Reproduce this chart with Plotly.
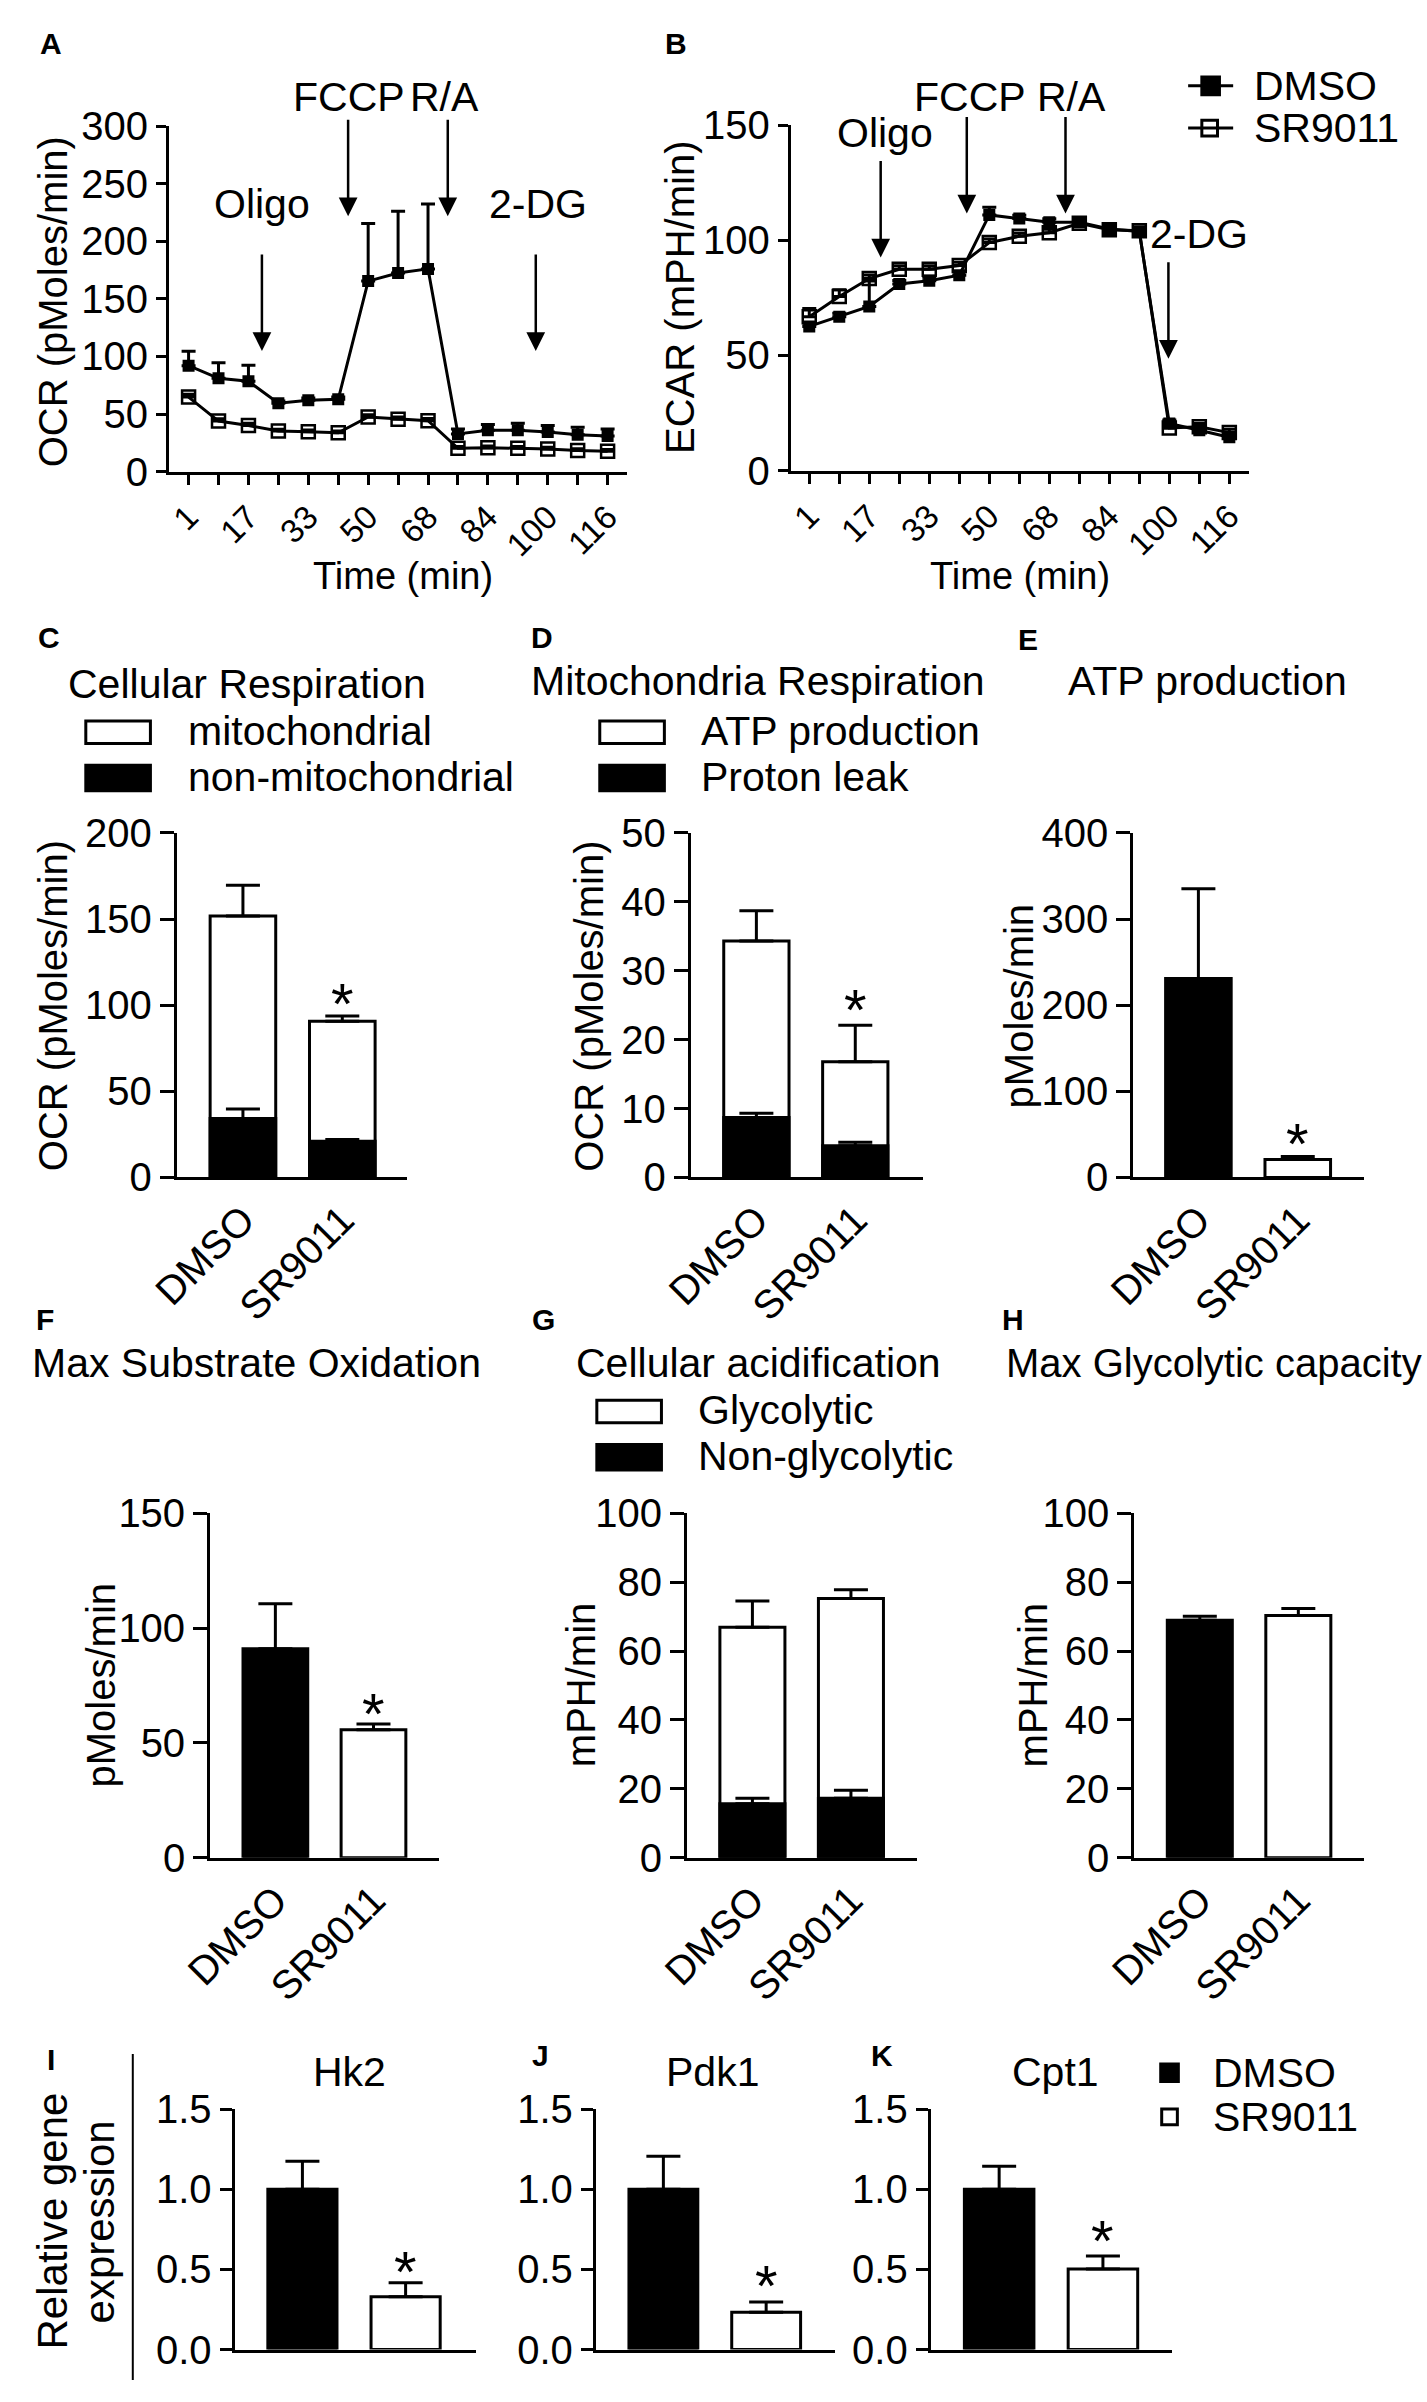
import plotly.graph_objects as go

W, H = 1427, 2402
FONT = "Liberation Sans, Arial, Helvetica, sans-serif"
FS = 40

# ---------------- data ----------------
time_labels = ["1", "", "17", "", "33", "", "50", "", "68", "", "84", "", "100", "", "116"]
time_idx = list(range(len(time_labels)))

ocr_dmso = [92, 81, 78.5, 59.3, 61.9, 62.8, 165.4, 172.4, 176, 32.7, 35.9, 35.9, 34.3, 32, 31]
ocr_dmso_err = [12.5, 13.6, 13.8, 2, 2, 2, 50, 53.6, 56.4, 4.3, 5.1, 6.1, 5.7, 6.5, 6]
ocr_sr = [64.7, 43.9, 40, 35.3, 34.6, 33.7, 47.4, 45.5, 44.2, 20.2, 20.8, 20.2, 19.6, 18.3, 17.6]
ocr_sr_err = [2.5, 2, 2, 1.5, 1.5, 1.5, 2, 2, 2, 1.5, 1.5, 1.5, 1.5, 1.5, 1.5]

ecar_dmso = [62.6, 66.8, 71.3, 81, 82.4, 84.8, 111, 109.4, 107.8, 107.8, 104.9, 103.8, 20.5, 17.5, 14.5]
ecar_dmso_err = [1.5, 1.5, 11, 1.5, 1.5, 1.5, 3.3, 1.5, 1.5, 1.5, 1.5, 1.5, 1.5, 1.5, 1.5]
ecar_sr = [66.8, 75.6, 83.4, 87.4, 87.4, 89, 99, 101.7, 103.3, 107.4, 104.6, 104.1, 18.5, 19, 16.5]
ecar_sr_err = [3.6, 2.9, 1.5, 1.5, 1.5, 1.5, 1.5, 1.5, 1.5, 1.5, 1.5, 1.5, 1.5, 1.5, 1.5]

groups = ["DMSO", "SR9011"]

cr_nonmito = [34.2, 21.0]
cr_nonmito_err = [5.5, 1.0]
cr_mito = [117.5, 69.6]
cr_total_err = [17.9, 3.1]

mr_leak = [8.7, 4.6]
mr_leak_err = [0.6, 0.5]
mr_atp = [25.6, 12.2]
mr_total_err = [4.4, 5.3]

atp_prod = [231.0, 20.9]
atp_prod_err = [104.0, 3.5]

max_sub_ox = [91.0, 55.7]
max_sub_ox_err = [19.6, 2.5]

ca_nonglyc = [15.7, 17.3]
ca_nonglyc_err = [1.6, 2.3]
ca_glyc = [51.2, 57.9]
ca_total_err = [7.6, 2.6]

max_glyc = [68.9, 70.3]
max_glyc_err = [1.2, 2.0]

genes = ["Hk2", "Pdk1", "Cpt1"]
expr_dmso = [1.0, 1.0, 1.0]
expr_dmso_err = [0.175, 0.205, 0.143]
expr_sr = [0.33, 0.232, 0.502]
expr_sr_err = [0.086, 0.065, 0.082]

# ---------------- layout helpers ----------------
fig = go.Figure()
layout = dict(width=W, height=H, margin=dict(l=0, r=0, t=0, b=0), autosize=False,
              paper_bgcolor="white", plot_bgcolor="white", showlegend=False,
              barmode="overlay", font=dict(family=FONT, size=FS, color="black"))
ann = []
shapes = []


def xn(n):
    return "x" if n == 1 else f"x{n}"


def yn(n):
    return "y" if n == 1 else f"y{n}"


def xk(n):
    return "xaxis" if n == 1 else f"xaxis{n}"


def yk(n):
    return "yaxis" if n == 1 else f"yaxis{n}"


def px(p):
    return p / W


def py(p):
    return 1 - p / H


def axes(n, xpx, ypx, xr, yr, dtick, xticks=None, yfmt=None, xfs=FS, yticklen=14):
    xa = dict(domain=[px(xpx[0]), px(xpx[1])], range=list(xr), anchor=yn(n),
              showline=True, linewidth=3, linecolor="black", showgrid=False, zeroline=False,
              tickfont=dict(family=FONT, size=xfs, color="black"), fixedrange=True)
    if xticks is None:
        xa.update(showticklabels=False, ticks="")
    else:
        xa.update(tickmode="array", tickvals=xticks[0], ticktext=xticks[1],
                  tickangle=-45, ticks=xticks[2], ticklen=10, tickwidth=3, tickcolor="black")
    ya = dict(domain=[py(ypx[1]), py(ypx[0])], range=list(yr), anchor=xn(n),
              showline=True, linewidth=3, linecolor="black", showgrid=False, zeroline=False,
              ticks="outside", ticklen=yticklen, tickwidth=3, tickcolor="black", dtick=dtick, tick0=0,
              tickfont=dict(family=FONT, size=FS, color="black"), fixedrange=True)
    if yfmt:
        ya["tickformat"] = yfmt
    layout[xk(n)] = xa
    layout[yk(n)] = ya


def text(x, y, s, size=FS, xanchor="center", yanchor="middle", angle=0):
    ann.append(dict(x=px(x), y=py(y), xref="paper", yref="paper", text=s, showarrow=False,
                    font=dict(family=FONT, size=size, color="black"),
                    xanchor=xanchor, yanchor=yanchor, textangle=angle))


def letter(x, y, s):
    text(x, y, "<b>" + s + "</b>", size=30)


def star(n, xv, yv):
    ann.append(dict(x=xv, y=yv, xref=xn(n), yref=yn(n), text="*", showarrow=False,
                    font=dict(family=FONT, size=58, color="black"), yanchor="middle", yshift=-13))


def arrow(n, xv, yv, length):
    ann.append(dict(x=xv, y=yv, xref=xn(n), yref=yn(n), ax=0, ay=-length, axref="pixel", ayref="pixel",
                    text="", showarrow=True, arrowhead=2, arrowwidth=2.5, arrowsize=1.5,
                    arrowcolor="black"))


def rect(x0, y0, x1, y1, fill):
    shapes.append(dict(type="rect", xref="paper", yref="paper", x0=px(x0), x1=px(x1),
                       y0=py(y1), y1=py(y0), line=dict(color="black", width=3), fillcolor=fill))


def line(x0, y0, x1, y1, w=3):
    shapes.append(dict(type="line", xref="paper", yref="paper", x0=px(x0), x1=px(x1),
                       y0=py(y0), y1=py(y1), line=dict(color="black", width=w)))


def err(vals, w=17):
    return dict(type="data", array=vals, arrayminus=[0] * len(vals), symmetric=False,
                color="black", thickness=3, width=w, visible=True)


def bar(n, vals, errs, colors, w=0.66, ew=17):
    fig.add_trace(go.Bar(x=[0, 1], y=vals, width=w, xaxis=xn(n), yaxis=yn(n),
                         marker=dict(color=colors, line=dict(color="black", width=3)),
                         error_y=err(errs, ew), hoverinfo="skip"))


def series(n, yv, ye, filled):
    if filled:
        mk = dict(symbol="square", size=12, color="black")
    else:
        mk = dict(symbol="square-open", size=13, color="black", line=dict(width=2.5))
    fig.add_trace(go.Scatter(x=time_idx, y=yv, mode="lines+markers", xaxis=xn(n), yaxis=yn(n),
                             line=dict(color="black", width=3), marker=mk,
                             error_y=err(ye, 7), hoverinfo="skip"))


# ---------------- A: OCR time course ----------------
axes(1, (142, 610), (106, 458), (-0.654, 14.654), (0, 300), 50,
     xticks=(time_idx, time_labels, "outside"), xfs=33, yticklen=10)
series(1, ocr_dmso, ocr_dmso_err, True)
series(1, ocr_sr, ocr_sr_err, False)
arrow(1, 2.45, 104.8, 98)
arrow(1, 5.33, 221.6, 98)
arrow(1, 8.66, 221.6, 98)
arrow(1, 11.6, 104.8, 98)
text(237, 185, "Oligo", size=41)
text(326, 76, "FCCP", size=41)
text(423, 76, "R/A", size=41)
text(519, 185, "2-DG", size=41)
text(23, 285, "OCR (pMoles/min)", angle=-90)
text(381, 564, "Time (min)", size=38)
letter(21, 22, "A")

# ---------------- B: ECAR time course ----------------
axes(2, (777, 1245), (105, 457), (-0.62, 14.65), (0, 150), 50,
     xticks=(time_idx, time_labels, "outside"), xfs=33, yticklen=10)
series(2, ecar_dmso, ecar_dmso_err, True)
series(2, ecar_sr, ecar_sr_err, False)
arrow(2, 2.38, 92.5, 98)
arrow(2, 5.25, 111.6, 98)
arrow(2, 8.54, 111.6, 98)
arrow(2, 11.97, 48.6, 98)
text(873, 113, "Oligo", size=41)
text(960, 76, "FCCP", size=41)
text(1064, 76, "R/A", size=41)
text(1194, 216, "2-DG", size=41)
text(664, 281, "ECAR (mPH/min)", angle=-90)
text(1011, 564, "Time (min)", size=38)
letter(660, 22, "B")
# legend B
line(1183, 65, 1229, 65)
rect(1197, 56, 1215, 74, "black")
line(1183, 108, 1229, 108)
rect(1197, 100, 1213, 116, "rgba(0,0,0,0)")
text(1248, 65, "DMSO", size=41, xanchor="left")
text(1248, 108, "SR9011", size=41, xanchor="left")

grp_ticks = ([0, 1], groups, "")
ROW1 = (826, 1177)
ROW2 = (1519, 1870)

# ---------------- C ----------------
axes(3, (150, 385), ROW1, (-0.665, 1.65), (0, 200), 50, xticks=grp_ticks)
cr_total = [a + b for a, b in zip(cr_nonmito, cr_mito)]
bar(3, cr_total, cr_total_err, ["white", "white"])
bar(3, cr_nonmito, cr_nonmito_err, ["black", "black"])
star(3, 1, 108.3)
text(222, 674, "Cellular Respiration", size=41)
rect(57, 712, 123, 735, "white")
rect(57, 757, 123, 783, "black")
text(159, 722, "mitochondrial", size=41, xanchor="left")
text(159, 769, "non-mitochondrial", size=41, xanchor="left")
text(23, 1002, "OCR (pMoles/min)", angle=-90)
letter(19, 627, "C")

# ---------------- D ----------------
axes(4, (675, 912), ROW1, (-0.663, 1.683), (0, 50), 10, xticks=grp_ticks)
mr_total = [a + b for a, b in zip(mr_leak, mr_atp)]
bar(4, mr_total, mr_total_err, ["white", "white"])
bar(4, mr_leak, mr_leak_err, ["black", "black"])
star(4, 1, 26.2)
text(744, 671, "Mitochondria Respiration", size=41)
rect(582, 712, 648, 735, "white")
rect(582, 757, 648, 783, "black")
text(683, 722, "ATP production", size=41, xanchor="left")
text(683, 769, "Proton leak", size=41, xanchor="left")
text(571, 1002, "OCR (pMoles/min)", angle=-90)
letter(523, 627, "D")

# ---------------- E ----------------
axes(5, (1127, 1363), ROW1, (-0.655, 1.67), (0, 400), 100, xticks=grp_ticks)
bar(5, atp_prod, atp_prod_err, ["black", "white"])
star(5, 1, 55)
text(1203, 671, "ATP production", size=41)
text(1010, 1002, "pMoles/min", angle=-90)
letter(1019, 629, "E")

# ---------------- F ----------------
axes(6, (184, 418), ROW2, (-0.665, 1.67), (0, 150), 50, xticks=grp_ticks)
bar(6, max_sub_ox, max_sub_ox_err, ["black", "white"])
star(6, 1, 68.4)
text(231, 1366, "Max Substrate Oxidation", size=41)
text(72, 1694, "pMoles/min", angle=-90)
letter(15, 1322, "F")

# ---------------- G ----------------
axes(7, (671, 906), ROW2, (-0.665, 1.67), (0, 100), 20, xticks=grp_ticks)
ca_total = [a + b for a, b in zip(ca_nonglyc, ca_glyc)]
bar(7, ca_total, ca_total_err, ["white", "white"])
bar(7, ca_nonglyc, ca_nonglyc_err, ["black", "black"])
text(744, 1366, "Cellular acidification", size=41)
rect(579, 1404, 645, 1427, "white")
rect(579, 1449, 645, 1475, "black")
text(680, 1414, "Glycolytic", size=41, xanchor="left")
text(680, 1461, "Non-glycolytic", size=41, xanchor="left")
text(563, 1694, "mPH/min", angle=-90)
letter(525, 1322, "G")

# ---------------- H ----------------
axes(8, (1128, 1363), ROW2, (-0.665, 1.67), (0, 100), 20, xticks=grp_ticks)
bar(8, max_glyc, max_glyc_err, ["black", "white"])
text(1424, 1366, "Max Glycolytic capacity", size=40, xanchor="right")
text(1024, 1694, "mPH/min", angle=-90)
letter(1004, 1322, "H")

# ---------------- I, J, K ----------------
gene_geo = [
    (9, (209, 456), (-0.657, 1.686), 326, 0.57, "I", (21, 2076)),
    (10, (578, 822), (-0.657, 1.667), 697, 0.48, "J", (521, 2071)),
    (11, (920, 1167), (-0.66, 1.67), 1048, 0.76, "K", (870, 2071)),
]
for gi, (n, xpx, xr, tx, sy, lab, lpos) in enumerate(gene_geo):
    axes(n, xpx, (2126, 2371), xr, (0, 1.5), 0.5, xticks=None, yfmt=".1f", yticklen=12)
    bar(n, [expr_dmso[gi], expr_sr[gi]], [expr_dmso_err[gi], expr_sr_err[gi]],
        ["black", "white"], w=0.67, ew=17)
    star(n, 1, sy)
    text(tx, 2088, genes[gi], size=41)
    letter(lpos[0], lpos[1], lab)

text(23, 2240, "Relative gene", size=42, angle=-90)
text(71, 2241, "expression", size=42, angle=-90)
line(105, 2070, 105, 2402, w=2)
rect(1155, 2080, 1173, 2098, "black")
rect(1156, 2126, 1172, 2142, "white")
text(1206, 2089, "DMSO", size=41, xanchor="left")
text(1206, 2134, "SR9011", size=41, xanchor="left")

layout["annotations"] = ann
layout["shapes"] = shapes
fig.update_layout(**layout)
fig.write_html("out.html", config={"displayModeBar": False, "staticPlot": True},
               post_script="document.body.style.margin='0px';document.body.style.overflow='hidden';")
